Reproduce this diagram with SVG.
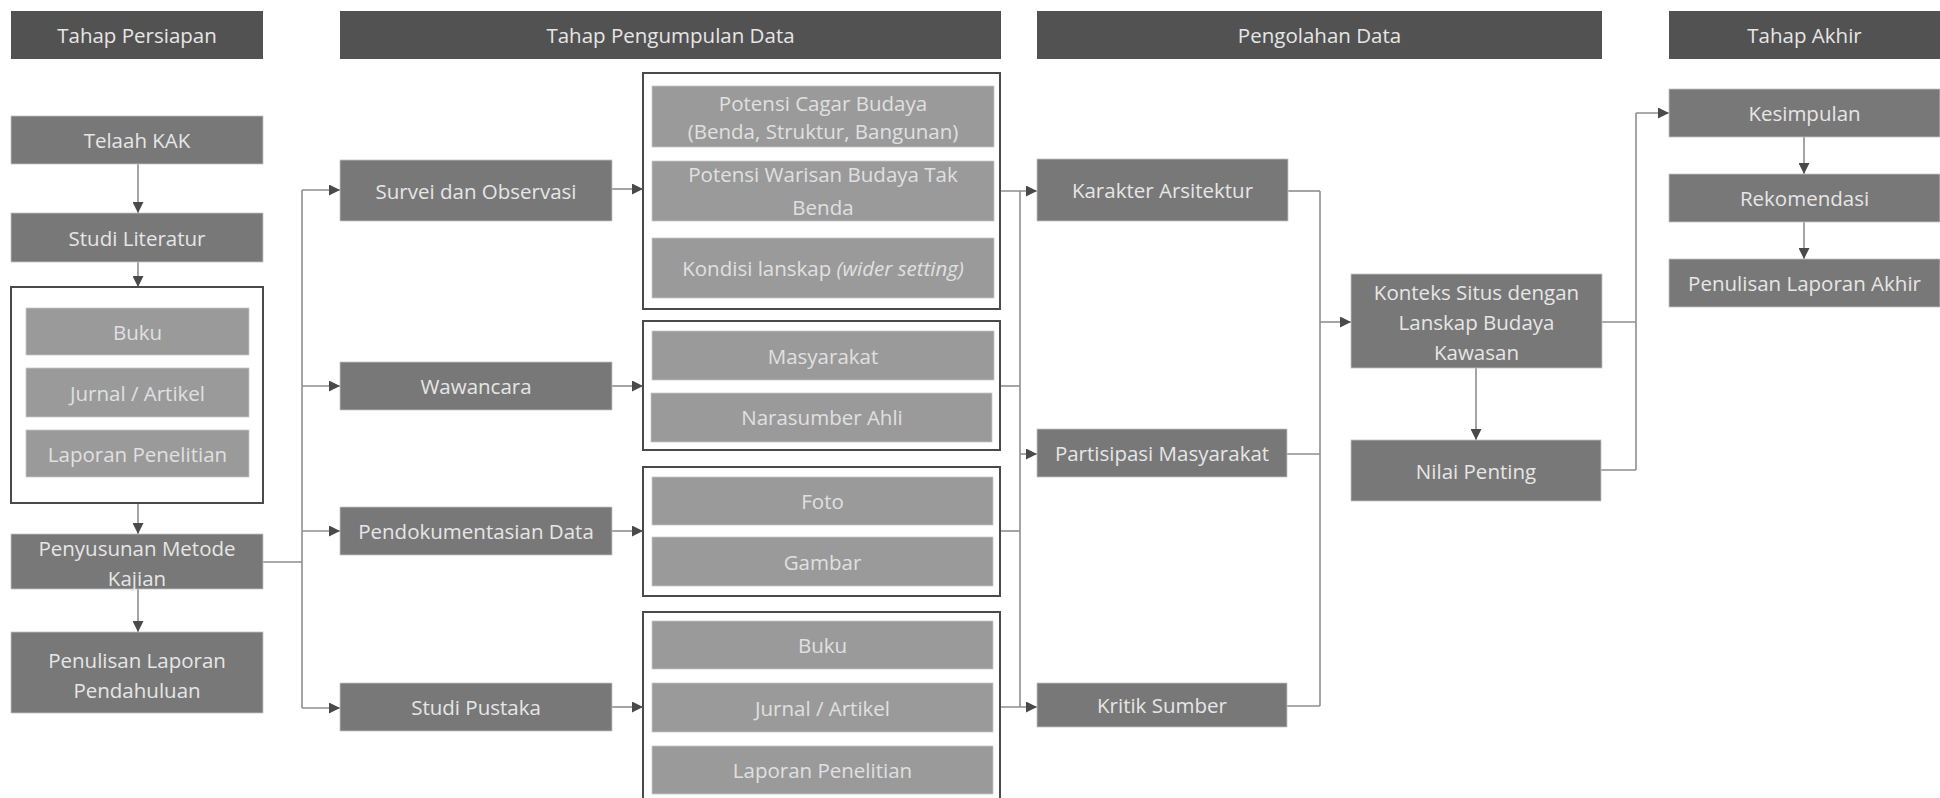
<svg xmlns="http://www.w3.org/2000/svg" width="1940" height="798" viewBox="0 0 1940 798">
<style>
.hdr{fill:#525252;}
.node{fill:#787878;stroke:#c4c4c4;stroke-width:0.8;}
.item{fill:#9a9a9a;stroke:#c8c8c8;stroke-width:0.8;}
.frame{fill:#ffffff;stroke:#4a4a4a;stroke-width:2;}
text{font-family:"Open Sans","Liberation Sans",sans-serif;font-size:20.5px;fill:#e6e6e6;text-anchor:middle;dominant-baseline:central;}
.item-t{fill:#e0e0e0;}
.conn{fill:none;stroke:#8e8e8e;stroke-width:1.6;}
</style>
<defs>
<marker id="arr" viewBox="0 0 10 10" refX="10" refY="5" markerWidth="11" markerHeight="11" markerUnits="userSpaceOnUse" orient="auto">
<path d="M0,0 L10,5 L0,10 z" fill="#4a4a4a"/>
</marker>
</defs>
<rect width="1940" height="798" fill="#ffffff"/>

<g id="headers">
<g id="h-persiapan"><rect class="hdr" x="11" y="11" width="252" height="48"/><text x="137" y="35">Tahap Persiapan</text></g>
<g id="h-pengumpulan"><rect class="hdr" x="340" y="11" width="661" height="48"/><text x="670.5" y="35">Tahap Pengumpulan Data</text></g>
<g id="h-pengolahan"><rect class="hdr" x="1037" y="11" width="565" height="48"/><text x="1319.5" y="35">Pengolahan Data</text></g>
<g id="h-akhir"><rect class="hdr" x="1669" y="11" width="271" height="48"/><text x="1804.5" y="35">Tahap Akhir</text></g>
</g>

<g id="connectors">
<line class="conn" x1="138" y1="164" x2="138" y2="213" marker-end="url(#arr)"/>
<line class="conn" x1="138" y1="262" x2="138" y2="287" marker-end="url(#arr)"/>
<line class="conn" x1="138" y1="503" x2="138" y2="534" marker-end="url(#arr)"/>
<line class="conn" x1="138" y1="589" x2="138" y2="632" marker-end="url(#arr)"/>
<polyline class="conn" points="263,562 302,562"/>
<line class="conn" x1="302" y1="190" x2="302" y2="708"/>
<line class="conn" x1="302" y1="190" x2="340" y2="190" marker-end="url(#arr)"/>
<line class="conn" x1="302" y1="386" x2="340" y2="386" marker-end="url(#arr)"/>
<line class="conn" x1="302" y1="531" x2="340" y2="531" marker-end="url(#arr)"/>
<line class="conn" x1="302" y1="708" x2="340" y2="708" marker-end="url(#arr)"/>
<line class="conn" x1="612" y1="189" x2="643" y2="189" marker-end="url(#arr)"/>
<line class="conn" x1="612" y1="386" x2="643" y2="386" marker-end="url(#arr)"/>
<line class="conn" x1="612" y1="531" x2="643" y2="531" marker-end="url(#arr)"/>
<line class="conn" x1="612" y1="707" x2="643" y2="707" marker-end="url(#arr)"/>
<line class="conn" x1="1000" y1="191" x2="1037" y2="191" marker-end="url(#arr)"/>
<line class="conn" x1="1020" y1="191" x2="1020" y2="707"/>
<line class="conn" x1="1000" y1="386" x2="1020" y2="386"/>
<line class="conn" x1="1000" y1="531" x2="1020" y2="531"/>
<line class="conn" x1="1020" y1="454" x2="1037" y2="454" marker-end="url(#arr)"/>
<line class="conn" x1="1000" y1="707" x2="1037" y2="707" marker-end="url(#arr)"/>
<line class="conn" x1="1288" y1="191" x2="1320" y2="191"/>
<line class="conn" x1="1320" y1="191" x2="1320" y2="706"/>
<line class="conn" x1="1287" y1="454" x2="1320" y2="454"/>
<line class="conn" x1="1287" y1="706" x2="1320" y2="706"/>
<line class="conn" x1="1320" y1="322" x2="1351" y2="322" marker-end="url(#arr)"/>
<line class="conn" x1="1476" y1="368" x2="1476" y2="440" marker-end="url(#arr)"/>
<line class="conn" x1="1602" y1="322" x2="1636" y2="322"/>
<line class="conn" x1="1601" y1="470" x2="1636" y2="470"/>
<line class="conn" x1="1636" y1="470" x2="1636" y2="113"/>
<line class="conn" x1="1636" y1="113" x2="1669" y2="113" marker-end="url(#arr)"/>
<line class="conn" x1="1804" y1="137" x2="1804" y2="174" marker-end="url(#arr)"/>
<line class="conn" x1="1804" y1="222" x2="1804" y2="259" marker-end="url(#arr)"/>
</g>

<g id="telaah-kak"><rect class="node" x="11" y="116" width="252" height="48"/><text x="137" y="140">Telaah KAK</text></g>
<g id="studi-literatur"><rect class="node" x="11" y="213" width="252" height="49"/><text x="137" y="237.5">Studi Literatur</text></g>
<g id="literatur-group">
<rect class="frame" x="11" y="287" width="252" height="216"/>
<g id="lit-buku"><rect class="item" x="26" y="308" width="223" height="47"/><text class="item-t" x="137.5" y="331.5">Buku</text></g>
<g id="lit-jurnal"><rect class="item" x="26" y="368" width="223" height="49"/><text class="item-t" x="137.5" y="392.5">Jurnal / Artikel</text></g>
<g id="lit-laporan"><rect class="item" x="26" y="430" width="223" height="47"/><text class="item-t" x="137.5" y="453.5">Laporan Penelitian</text></g>
</g>
<g id="penyusunan"><rect class="node" x="11" y="534" width="252" height="55"/><text x="137" y="548">Penyusunan  Metode</text><text x="137" y="578">Kajian</text></g>
<g id="pendahuluan"><rect class="node" x="11" y="632" width="252" height="81"/><text x="137" y="660">Penulisan Laporan</text><text x="137" y="690">Pendahuluan</text></g>

<g id="survei"><rect class="node" x="340" y="160" width="272" height="61"/><text x="476" y="190.5">Survei dan Observasi</text></g>
<g id="wawancara"><rect class="node" x="340" y="362" width="272" height="48"/><text x="476" y="386">Wawancara</text></g>
<g id="pendokumentasian"><rect class="node" x="340" y="507" width="272" height="48"/><text x="476" y="531">Pendokumentasian Data</text></g>
<g id="studi-pustaka"><rect class="node" x="340" y="683" width="272" height="48"/><text x="476" y="707">Studi Pustaka</text></g>

<g id="survei-group">
<rect class="frame" x="643" y="73" width="357" height="236"/>
<g id="cagar"><rect class="item" x="652" y="86" width="342" height="61"/><text class="item-t" x="823" y="103">Potensi Cagar Budaya</text><text class="item-t" x="823" y="131">(Benda, Struktur, Bangunan)</text></g>
<g id="warisan"><rect class="item" x="652" y="161" width="342" height="60"/><text class="item-t" x="823" y="174">Potensi Warisan Budaya Tak</text><text class="item-t" x="823" y="207">Benda</text></g>
<g id="kondisi"><rect class="item" x="652" y="238" width="342" height="60"/><text class="item-t" x="823" y="268">Kondisi lanskap <tspan font-style="italic">(wider setting)</tspan></text></g>
</g>
<g id="wawancara-group">
<rect class="frame" x="643" y="321" width="357" height="129"/>
<g id="masyarakat"><rect class="item" x="652" y="331" width="342" height="49"/><text class="item-t" x="823" y="356">Masyarakat</text></g>
<g id="narasumber"><rect class="item" x="651" y="393" width="341" height="49"/><text class="item-t" x="822" y="417">Narasumber Ahli</text></g>
</g>
<g id="dokumentasi-group">
<rect class="frame" x="643" y="467" width="357" height="129"/>
<g id="foto"><rect class="item" x="652" y="477" width="341" height="48"/><text class="item-t" x="822.5" y="501">Foto</text></g>
<g id="gambar"><rect class="item" x="652" y="537" width="341" height="49"/><text class="item-t" x="822.5" y="562">Gambar</text></g>
</g>
<g id="pustaka-group">
<rect class="frame" x="643" y="612" width="357" height="200"/>
<g id="pus-buku"><rect class="item" x="652" y="621" width="341" height="48"/><text class="item-t" x="822.5" y="645">Buku</text></g>
<g id="pus-jurnal"><rect class="item" x="652" y="683" width="341" height="49"/><text class="item-t" x="822.5" y="707.5">Jurnal / Artikel</text></g>
<g id="pus-laporan"><rect class="item" x="652" y="746" width="341" height="48"/><text class="item-t" x="822.5" y="770">Laporan Penelitian</text></g>
</g>

<g id="karakter"><rect class="node" x="1037" y="159" width="251" height="62"/><text x="1162.5" y="190">Karakter Arsitektur</text></g>
<g id="partisipasi"><rect class="node" x="1037" y="429" width="250" height="48"/><text x="1162" y="453">Partisipasi Masyarakat</text></g>
<g id="kritik"><rect class="node" x="1037" y="683" width="250" height="44"/><text x="1162" y="705">Kritik Sumber</text></g>

<g id="konteks"><rect class="node" x="1351" y="274" width="251" height="94"/><text x="1476.5" y="292">Konteks Situs dengan</text><text x="1476.5" y="322">Lanskap Budaya</text><text x="1476.5" y="352">Kawasan</text></g>
<g id="nilai"><rect class="node" x="1351" y="440" width="250" height="61"/><text x="1476" y="471">Nilai Penting</text></g>

<g id="kesimpulan"><rect class="node" x="1669" y="89" width="271" height="48"/><text x="1804.5" y="113">Kesimpulan</text></g>
<g id="rekomendasi"><rect class="node" x="1669" y="174" width="271" height="48"/><text x="1804.5" y="198">Rekomendasi</text></g>
<g id="laporan-akhir"><rect class="node" x="1669" y="259" width="271" height="48"/><text x="1804.5" y="283">Penulisan Laporan Akhir</text></g>
</svg>
